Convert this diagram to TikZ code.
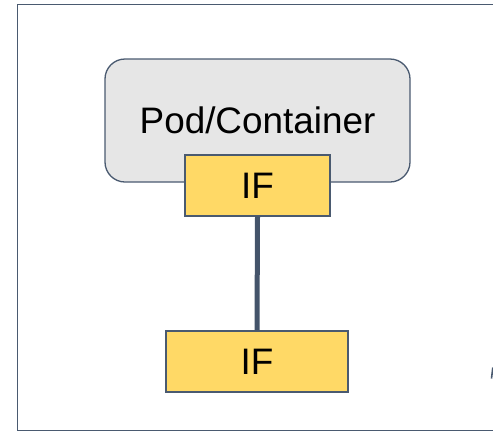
\documentclass[tikz,border=0pt]{standalone}
\usepackage{fontspec}
\setmainfont{Liberation Sans}
\definecolor{slate}{HTML}{4A5A70}
\definecolor{linkslate}{HTML}{44546A}
\definecolor{podgray}{HTML}{E6E6E6}
\definecolor{ifyellow}{HTML}{FFD966}
\tikzset{
  box/.style={draw=slate, line width=1.3bp, inner sep=0pt, font=\fontsize{37}{44}\selectfont},
  podbox/.style={box, fill=podgray, rounded corners=20bp},
  ifbox/.style={box, fill=ifyellow},
  link/.style={draw=linkslate, line width=5bp}
}
\begin{document}
\begin{tikzpicture}[x=1bp,y=-1bp]
  \useasboundingbox (0,0) rectangle (493,432);
  \clip (0,0) rectangle (493,432);
  % outer frame, open on the right where it runs off the edge
  \draw[slate, line width=1.5bp] (493,4.5) -- (17.5,4.5) -- (17.5,430.5) -- (493,430.5);
  % pod with its interface
  \node[podbox, minimum width=305bp, minimum height=123bp] (pod) at (257.5,120.5) {Pod/Container};
  \node[ifbox, minimum width=145bp, minimum height=61bp] (if1) at (257.5,185.5) {IF};
  \node[ifbox, minimum width=182bp, minimum height=61bp] (if2) at (257,361.5) {IF};
  \draw[link] (if1.south) -- (if2.north);
  % fragment of a glyph at the right edge
  \draw[slate, line width=1.6bp] (492.8,367.5) -- (491.5,378.5);
\end{tikzpicture}
\end{document}
